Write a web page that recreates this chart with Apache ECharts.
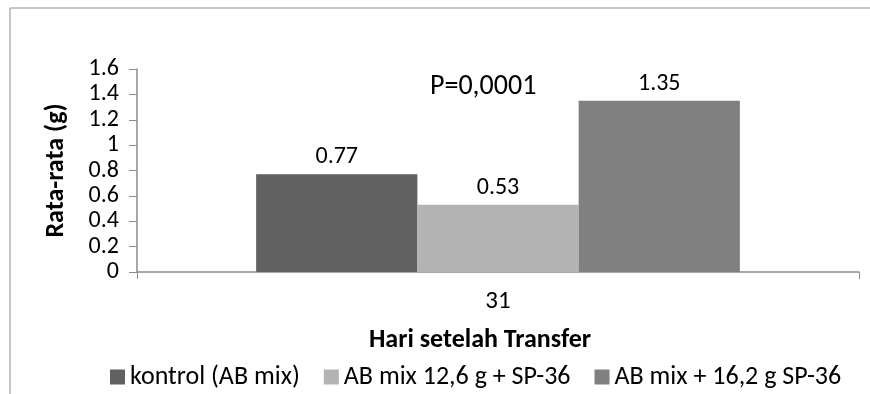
<!DOCTYPE html>
<html>
<head>
<meta charset="utf-8">
<script src="https://cdn.jsdelivr.net/npm/echarts@6/dist/echarts.min.js"></script>
<style>
  html, body { margin: 0; padding: 0; background: #fff; }
  #chart { width: 870px; height: 394px; }
</style>
</head>
<body>
<div id="chart"></div>
<script>
// data
var categories = ["31"];
var seriesNames = ["kontrol (AB mix)", "AB mix 12,6 g + SP-36", "AB mix + 16,2 g SP-36"];
var kontrol = [0.77];
var mix126 = [0.53];
var mix162 = [1.35];
var yTicks = [0, 0.2, 0.4, 0.6, 0.8, 1, 1.2, 1.4, 1.6];
var pText = "P=0,0001";

var colors = ["#616161", "#b3b3b3", "#808080"];
var font = 'Carlito, Lato, "Open Sans", sans-serif';

var chart = echarts.init(document.getElementById("chart"));

function barSeries(name, data, color) {
    return {
        name: name,
        type: "bar",
        data: data,
        barGap: "0%",
        barCategoryGap: "33%",
        itemStyle: { color: color },
        label: {
            show: true,
            position: "top",
            distance: 5,
            color: "#000",
            fontSize: 24,
            fontFamily: font
        }
    };
}

chart.setOption({
    animation: false,
    color: colors,
    textStyle: { fontFamily: font },
    graphic: [
        {
            // 外框
            type: "rect",
            shape: { x: 10, y: 8, width: 900, height: 500 },
            style: { fill: "none", stroke: "#8c8c8c", lineWidth: 1 }
        },
        {
            type: "text",
            left: 430,
            top: 73,
            style: { text: pText, fontSize: 28, fontFamily: font, fill: "#000" }
        }
    ],
    grid: { left: 137, right: 11, top: 69, bottom: 122 },
    legend: {
        data: seriesNames,
        top: 359,
        left: 105,
        icon: "rect",
        itemWidth: 15,
        itemHeight: 15,
        itemGap: 24,
        itemStyle: { borderWidth: 0 },
        textStyle: { fontSize: 26, fontFamily: font, color: "#000" }
    },
    xAxis: {
        type: "category",
        data: categories,
        name: "Hari setelah Transfer",
        nameLocation: "middle",
        nameGap: 55,
        nameTextStyle: {
            fontSize: 26, fontWeight: "bold", color: "#000", fontFamily: font,
            padding: [0, 36, 0, 0]
        },
        axisLine: { lineStyle: { color: "#8c8c8c", width: 1.5 } },
        axisTick: { show: true, length: 7, lineStyle: { color: "#8c8c8c" } },
        axisLabel: { fontSize: 25, color: "#000", margin: 17, fontFamily: font }
    },
    yAxis: {
        type: "value",
        min: yTicks[0],
        max: yTicks[yTicks.length - 1],
        interval: 0.2,
        name: "Rata-rata (g)",
        nameLocation: "middle",
        nameGap: 68,
        nameTextStyle: { fontSize: 26, fontWeight: "bold", color: "#000", fontFamily: font },
        axisLine: { show: true, lineStyle: { color: "#8c8c8c", width: 1.5 } },
        axisTick: { show: true, length: 8, lineStyle: { color: "#8c8c8c" } },
        splitLine: { show: false },
        axisLabel: { fontSize: 24, color: "#000", margin: 18, fontFamily: font }
    },
    series: [
        barSeries(seriesNames[0], kontrol, colors[0]),
        barSeries(seriesNames[1], mix126, colors[1]),
        barSeries(seriesNames[2], mix162, colors[2])
    ]
});
</script>
</body>
</html>
